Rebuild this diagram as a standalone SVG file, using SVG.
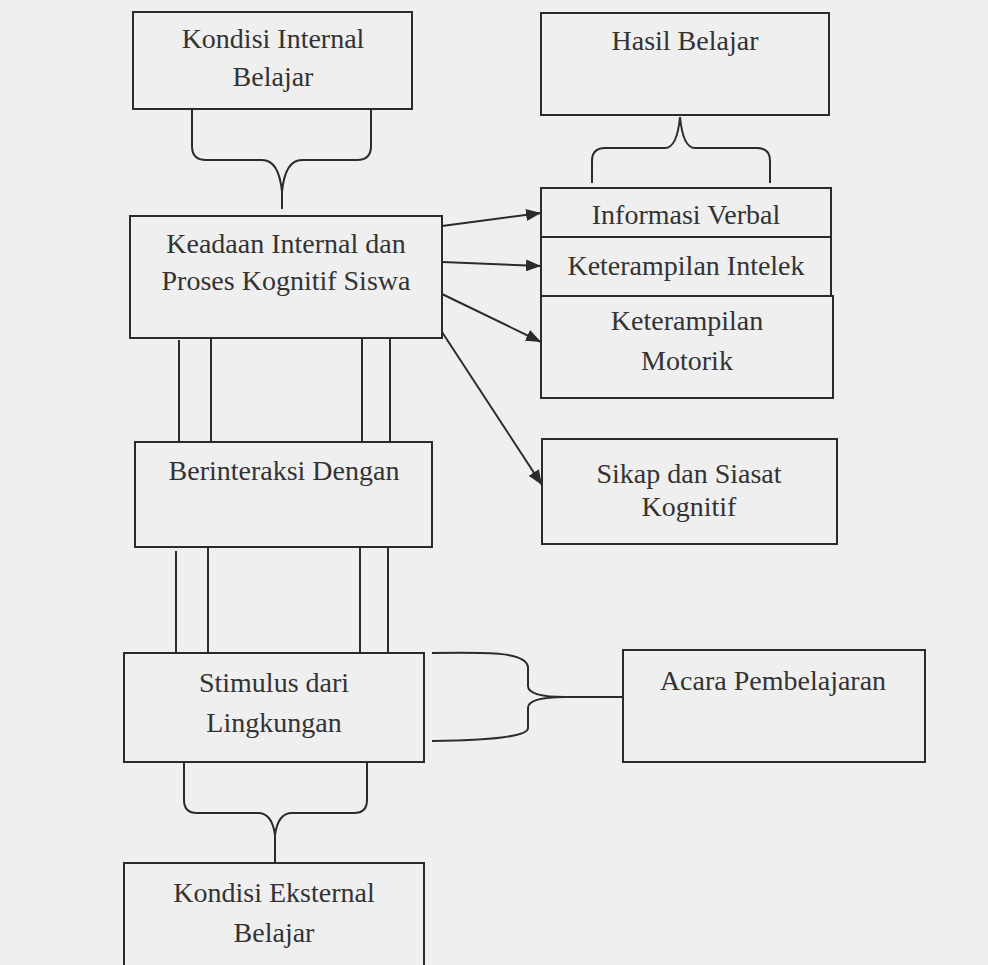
<svg xmlns="http://www.w3.org/2000/svg" width="988" height="965" viewBox="0 0 988 965">
<defs>
<style>
.box{fill:none;stroke:#2b2b2b;stroke-width:2}
.ln{fill:none;stroke:#2b2b2b;stroke-width:2}
.t{font-family:"Liberation Serif","Times New Roman",serif;font-size:28px;fill:#333;text-anchor:middle}
</style>
<marker id="ah" markerUnits="userSpaceOnUse" markerWidth="16" markerHeight="12" refX="15" refY="6" orient="auto">
<path d="M0,0 L15,6 L0,12 Z" fill="#2b2b2b"/>
</marker>
</defs>
<rect x="0" y="0" width="988" height="965" fill="#efefef"/>

<g id="kondisi-internal">
<rect class="box" x="133" y="12" width="279" height="97"/>
<text class="t" x="273" y="48">Kondisi Internal</text>
<text class="t" x="273" y="86">Belajar</text>
</g>

<g id="hasil-belajar">
<rect class="box" x="541" y="13" width="288" height="102"/>
<text class="t" x="685" y="50">Hasil Belajar</text>
</g>

<g id="keadaan-internal">
<rect class="box" x="130" y="216" width="312" height="122"/>
<text class="t" x="286" y="253">Keadaan Internal dan</text>
<text class="t" x="286" y="290">Proses Kognitif Siswa</text>
</g>

<g id="informasi-verbal">
<rect class="box" x="541" y="188" width="290" height="49"/>
<text class="t" x="686" y="224">Informasi Verbal</text>
</g>

<g id="keterampilan-intelek">
<rect class="box" x="541" y="237" width="290" height="59"/>
<text class="t" x="686" y="275">Keterampilan Intelek</text>
</g>

<g id="keterampilan-motorik">
<rect class="box" x="541" y="296" width="292" height="102"/>
<text class="t" x="687" y="330">Keterampilan</text>
<text class="t" x="687" y="370">Motorik</text>
</g>

<g id="berinteraksi">
<rect class="box" x="135" y="442" width="297" height="105"/>
<text class="t" x="284" y="480">Berinteraksi Dengan</text>
</g>

<g id="sikap-siasat">
<rect class="box" x="542" y="439" width="295" height="105"/>
<text class="t" x="689" y="483">Sikap dan Siasat</text>
<text class="t" x="689" y="516">Kognitif</text>
</g>

<g id="stimulus">
<rect class="box" x="124" y="653" width="300" height="109"/>
<text class="t" x="274" y="692">Stimulus dari</text>
<text class="t" x="274" y="732">Lingkungan</text>
</g>

<g id="acara-pembelajaran">
<rect class="box" x="623" y="650" width="302" height="112"/>
<text class="t" x="773" y="690">Acara Pembelajaran</text>
</g>

<g id="kondisi-eksternal">
<rect class="box" x="124" y="863" width="300" height="110"/>
<text class="t" x="274" y="902">Kondisi Eksternal</text>
<text class="t" x="274" y="942">Belajar</text>
</g>

<g id="connectors">
<path class="ln" d="M192,109 L192,146 Q192,160 206,160 L262,160 Q279,160 282,192 L282,209 M371,109 L371,146 Q371,160 357,160 L302,160 Q285,160 282,192"/>
<path class="ln" d="M592,183 L592,161 Q592,148 605,148 L665,148 Q677,148 680,117 M770,183 L770,161 Q770,148 757,148 L695,148 Q683,148 680,117"/>
<line class="ln" x1="442" y1="226" x2="541" y2="213" marker-end="url(#ah)"/>
<line class="ln" x1="442" y1="262" x2="541" y2="266" marker-end="url(#ah)"/>
<line class="ln" x1="442" y1="294" x2="541" y2="342" marker-end="url(#ah)"/>
<line class="ln" x1="442" y1="332" x2="542" y2="485" marker-end="url(#ah)"/>
<path class="ln" d="M179,340 V442 M211,338 V442 M362,338 V442 M390,338 V442"/>
<path class="ln" d="M176,551 V653 M208,547 V653 M360,547 V653 M388,547 V653"/>
<path class="ln" d="M432,653 C490,652 528,652 528,668 L528,686 Q528,697 565,697 L623,697 M565,697 Q528,697 528,708 L528,728 C528,737 490,740 432,741"/>
<path class="ln" d="M184,762 L184,800 Q184,813 197,813 L258,813 Q272,813 275,835 L275,863 M367,762 L367,800 Q367,813 354,813 L292,813 Q278,813 275,835"/>
</g>
</svg>
